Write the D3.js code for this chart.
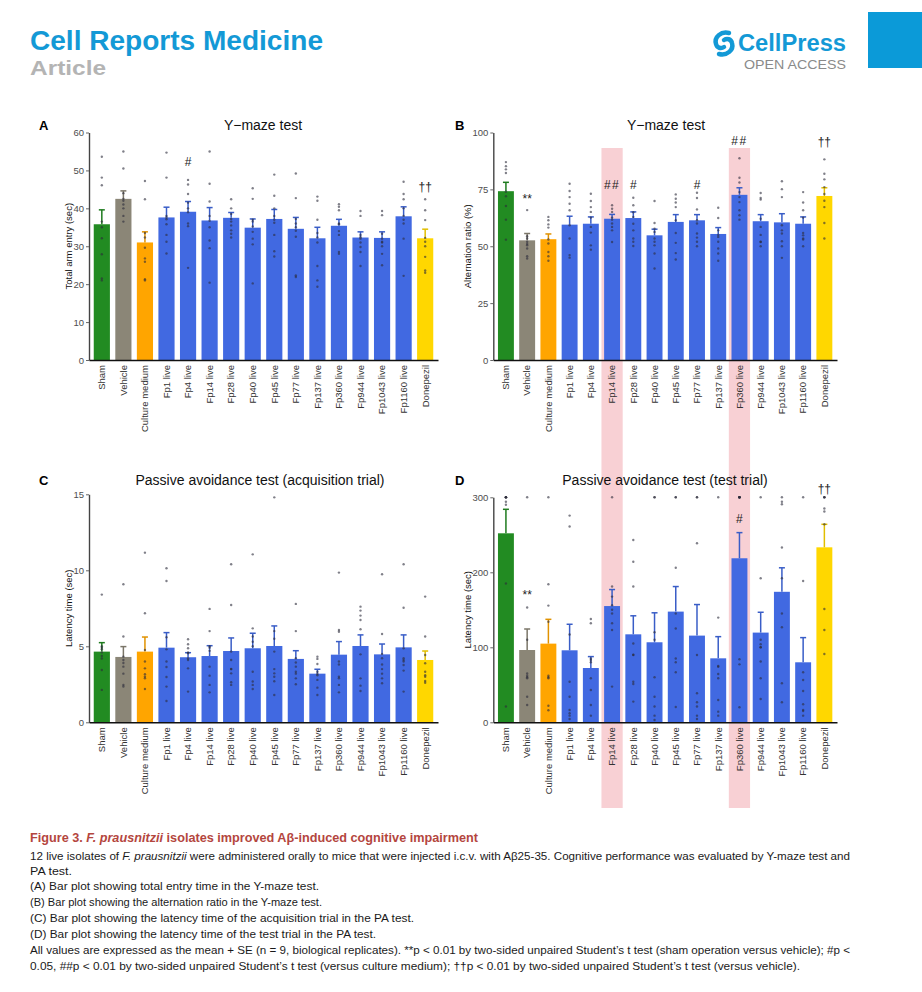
<!DOCTYPE html>
<html>
<head>
<meta charset="utf-8">
<script src="https://cdn.jsdelivr.net/npm/d3@7"></script>
<style>
body { margin: 0; background: #fff; }
svg { display: block; font-family: "Liberation Sans", Arial, sans-serif; }
</style>
</head>
<body>
<svg id="fig" width="922" height="992"></svg>
<script>
var groups = ["Sham", "Vehicle", "Culture medium", "Fp1 live", "Fp4 live", "Fp14 live", "Fp28 live",
    "Fp40 live", "Fp45 live", "Fp77 live", "Fp137 live", "Fp360 live", "Fp944 live", "Fp1043 live",
    "Fp1160 live", "Donepezil"];
var highlighted = ["Fp14 live", "Fp360 live"];

// A: Y-maze, total arm entry
var entryTicks = [0, 10, 20, 30, 40, 50, 60];
var entryMean = [35.8, 42.5, 31.0, 37.6, 39.1, 36.8, 37.5, 34.9, 37.2, 34.6, 32.1, 35.4, 32.3, 32.2, 37.9, 32.1];
var entrySe = [3.8, 2.1, 2.8, 2.7, 2.7, 3.4, 1.4, 2.3, 2.5, 3.0, 2.9, 1.7, 1.5, 1.6, 2.5, 2.4];
var entryPts = [
    [53.6, 48.1, 46.1, 36.5, 35.0, 32.1, 27.9, 21.5, 21.0],
    [55.0, 50.5, 44.0, 42.0, 41.0, 40.0, 38.0, 36.5, 42.5],
    [47.2, 42.4, 33.5, 32.3, 29.6, 26.8, 25.9, 21.3, 21.0],
    [54.7, 48.1, 38.0, 37.1, 35.8, 33.0, 31.2, 28.1, 37.5],
    [47.5, 46.3, 43.8, 41.5, 40.0, 39.0, 36.0, 35.3, 24.3],
    [55.0, 46.5, 41.8, 38.0, 36.7, 35.0, 31.5, 29.5, 20.4],
    [42.4, 40.0, 38.5, 37.2, 36.5, 35.5, 34.2, 33.3, 32.3],
    [45.3, 42.5, 37.0, 36.5, 35.2, 33.8, 32.0, 30.5, 20.2],
    [48.9, 43.3, 40.0, 38.0, 37.0, 36.2, 33.0, 28.7, 27.3],
    [49.2, 42.7, 37.2, 36.0, 35.0, 34.1, 32.5, 22.3, 21.9],
    [43.1, 42.0, 37.0, 33.5, 32.3, 31.0, 24.8, 21.0, 19.3],
    [41.1, 40.4, 39.5, 36.0, 35.8, 34.0, 33.0, 28.5, 28.0],
    [39.3, 38.0, 33.0, 32.4, 32.0, 31.0, 29.8, 28.5, 24.8],
    [39.3, 38.2, 33.3, 32.0, 31.2, 31.0, 30.0, 28.0, 25.0],
    [47.0, 43.8, 42.4, 40.0, 38.0, 37.0, 36.0, 32.0, 22.2],
    [42.4, 39.5, 36.9, 32.2, 31.2, 30.0, 27.2, 23.6, 23.0]
];
var entryMarks = [["Fp4 live", "#", 51.1], ["Donepezil", "\u2020\u2020", 44.5]];

// B: Y-maze, alternation ratio
var altTicks = [0, 25, 50, 75, 100];
var altMean = [74.2, 52.6, 53.1, 59.5, 59.9, 62.1, 62.4, 54.8, 60.7, 61.4, 55.4, 72.6, 61.0, 60.5, 59.9, 72.1];
var altSe = [3.9, 3.0, 2.3, 3.7, 3.0, 1.9, 2.7, 2.7, 3.2, 2.5, 2.8, 3.1, 2.9, 3.8, 3.0, 3.6];
var altPts = [
    [87.0, 85.2, 83.8, 82.2, 74.0, 67.7, 61.7, 52.9, 72.0],
    [65.9, 54.4, 53.4, 52.0, 51.0, 50.4, 49.0, 45.6, 44.6],
    [62.9, 61.4, 59.6, 58.2, 53.0, 51.2, 47.5, 45.6, 43.6],
    [77.5, 74.3, 71.6, 68.7, 65.8, 59.2, 53.4, 46.1, 45.0],
    [73.1, 69.9, 67.2, 65.1, 62.6, 58.5, 56.0, 50.4, 48.5],
    [68.0, 66.5, 65.1, 62.6, 61.7, 60.0, 58.5, 57.0, 51.9],
    [71.3, 68.0, 65.0, 62.9, 59.9, 57.0, 53.4, 52.0, 50.1],
    [69.9, 60.2, 57.7, 56.3, 53.4, 52.0, 50.4, 46.8, 40.2],
    [72.8, 70.9, 69.2, 67.2, 61.4, 55.8, 51.5, 47.0, 44.2],
    [73.5, 71.2, 66.2, 61.4, 60.0, 55.6, 53.8, 52.0, 50.0],
    [66.9, 62.4, 57.0, 55.0, 54.1, 52.0, 49.0, 46.8, 43.6],
    [88.7, 80.1, 73.8, 71.6, 69.4, 65.8, 63.6, 61.7, 78.0],
    [73.4, 71.2, 70.5, 62.1, 58.5, 55.0, 52.0, 51.9, 50.0],
    [78.6, 75.1, 71.6, 59.2, 55.6, 52.2, 50.0, 44.9, 57.0],
    [73.8, 69.2, 65.8, 62.6, 55.8, 54.8, 53.4, 50.0, 53.0],
    [88.2, 81.9, 79.4, 76.0, 67.2, 60.2, 53.4, 73.0, 70.0]
];
var altMarks = [["Vehicle", "**", 68.9], ["Fp14 live", "##", 75.0], ["Fp28 live", "#", 75.0],
    ["Fp77 live", "#", 75.0], ["Fp360 live", "##", 94.5], ["Donepezil", "\u2020\u2020", 93.9]];

// C: passive avoidance, acquisition trial
var acqTicks = [0, 5, 10, 15];
var acqMean = [4.65, 4.30, 4.65, 4.91, 4.28, 4.36, 4.69, 4.87, 5.02, 4.17, 3.20, 4.45, 5.02, 4.47, 4.93, 4.10];
var acqSe = [0.59, 0.68, 0.96, 0.99, 0.30, 0.68, 0.86, 0.99, 1.32, 0.54, 0.29, 0.86, 0.73, 0.68, 0.82, 0.59];
var acqPts = [
    [8.4, 4.8, 4.6, 4.36, 3.44, 2.13, 4.2, 5.0, 4.9],
    [9.08, 5.64, 4.32, 3.66, 2.46, 2.35, 4.1, 3.9, 3.2],
    [11.16, 7.17, 4.76, 3.55, 3.16, 2.89, 2.19, 3.0, 4.0],
    [10.13, 9.3, 4.8, 3.64, 2.98, 2.35, 1.40, 4.0, 5.6],
    [5.46, 5.13, 4.87, 4.54, 4.21, 3.55, 2.02, 4.6, 4.1],
    [7.46, 4.91, 3.66, 3.07, 2.46, 1.97, 5.0, 6.0, 4.7],
    [10.4, 7.72, 4.65, 4.1, 3.51, 3.22, 2.63, 2.46, 3.5],
    [11.05, 6.18, 5.64, 3.33, 2.68, 2.46, 2.19, 5.0, 5.3],
    [14.8, 4.65, 3.22, 3.0, 1.80, 6.0, 5.5, 3.5, 2.7],
    [7.79, 6.0, 4.21, 3.93, 3.66, 3.33, 2.89, 2.5, 3.2],
    [4.32, 4.17, 3.84, 3.33, 3.18, 2.79, 2.28, 1.80, 3.1],
    [9.85, 6.07, 5.96, 3.0, 2.89, 2.46, 1.97, 4.0, 3.8],
    [7.61, 7.35, 7.02, 6.73, 6.12, 4.47, 2.89, 2.41, 2.06],
    [9.74, 5.81, 4.5, 4.21, 2.89, 2.57, 3.8, 3.5, 3.2],
    [10.4, 7.54, 4.87, 4.21, 3.77, 3.4, 2.02, 4.0, 4.1],
    [8.27, 5.64, 4.43, 3.88, 3.33, 3.0, 2.72, 2.6, 3.1]
];
var acqMarks = [];

// D: passive avoidance, test trial
var testTicks = [0, 100, 200, 300];
var testMean = [252, 96.4, 104.9, 96, 72.4, 155, 117.3, 106.7, 147.6, 115.6, 85.3, 218.7, 119.6, 174, 80, 233.3];
var testSe = [32, 28, 32.4, 34.7, 15.2, 22, 24.7, 39.3, 33.4, 41.4, 28.9, 34.2, 27.1, 32, 32.9, 30.7];
var testPts = [
    [300, 300, 300, 300, 294, 300, 185, 290, 21],
    [300, 153, 110, 65, 62, 58.7, 34, 23, 60],
    [300, 184, 155.6, 134, 62, 58.7, 22, 16, 60],
    [275.6, 261, 117, 54, 34, 16.4, 12, 8.9, 4.4],
    [137.8, 132, 58.7, 43, 23, 8.9, 85, 80, 83],
    [300, 181, 167.6, 156, 150, 145, 132, 123, 47.6],
    [243, 214, 181, 105, 89.8, 54, 51, 27.6, 90],
    [300, 300, 120, 110, 60, 34, 21, 8.9, 3.1],
    [300, 300, 206, 145, 125, 85, 80, 66.7, 20.4],
    [300, 300, 238.7, 89.8, 38.7, 26.7, 21, 8.9, 4.4],
    [300, 139.6, 75, 74, 64.4, 58.7, 29.8, 14.2, 8.9],
    [300, 300, 300, 300, 300, 300, 84, 77.3, 20],
    [300, 192, 110, 104, 100, 81, 58.7, 31, 100],
    [300, 294, 290.7, 233, 192, 145, 126.7, 52, 26.7],
    [300, 188.4, 66.7, 56.4, 41.8, 24, 16.4, 15, 8.9],
    [300, 300, 300, 285, 281, 264, 151, 123, 91]
];
var testMarks = [["Vehicle", "**", 165], ["Fp360 live", "#", 265.7], ["Donepezil", "\u2020\u2020", 305.7]];

function bar_color(name)
{
    if (name == "Sham") return "#228B22";
    if (name == "Vehicle") return "#8B8677";
    if (name == "Culture medium") return "#FFA500";
    if (name == "Donepezil") return "#FFD700";
    return "#4169E1";
}

function band_scale(left, right)
{
    return d3.scaleBand().domain(groups).range([left, right]).paddingInner(0.25).paddingOuter(0.22);
}

function build_panel(svg, p)
{
    var x = band_scale(p.left, p.right);
    var y = d3.scaleLinear().domain([0, p.max]).range([p.bottom, p.top]);
    var g = svg.append("g");

    g.append("text").attr("x", p.letterX).attr("y", p.titleY)
        .attr("font-size", 13).attr("font-weight", "bold").text(p.letter);
    g.append("text").attr("x", p.titleX).attr("y", p.titleY)
        .attr("text-anchor", "middle").attr("font-size", 14).attr("fill", "#111").text(p.title);

    // bars
    g.selectAll(".bar").data(groups).enter().append("rect")
        .attr("x", function(d) { return x(d); })
        .attr("width", x.bandwidth())
        .attr("y", function(d, i) { return y(p.mean[i]); })
        .attr("height", function(d, i) { return y(0) - y(p.mean[i]); })
        .attr("fill", function(d) { return bar_color(d); });

    // mean + SE
    var cx = function(d) { return x(d) + x.bandwidth() / 2; };
    var err = g.selectAll(".err").data(groups).enter().append("g")
        .attr("stroke", function(d) { return d3.color(bar_color(d)).darker(0.35); })
        .attr("stroke-width", 1.5);
    err.append("line")
        .attr("x1", cx).attr("x2", cx)
        .attr("y1", function(d, i) { return y(p.mean[i]); })
        .attr("y2", function(d, i) { return y(p.mean[i] + p.se[i]); });
    err.append("line")
        .attr("x1", function(d) { return cx(d) - 3; })
        .attr("x2", function(d) { return cx(d) + 3; })
        .attr("y1", function(d, i) { return y(p.mean[i] + p.se[i]); })
        .attr("y2", function(d, i) { return y(p.mean[i] + p.se[i]); });

    // individual mice
    var pts = [];
    p.pts.forEach(function(arr, i) {
        arr.forEach(function(v) { pts.push({name: groups[i], v: v}); });
    });
    g.selectAll(".pt").data(pts).enter().append("circle")
        .attr("cx", function(d) { return cx(d.name); })
        .attr("cy", function(d) { return y(d.v); })
        .attr("r", 1.2)
        .attr("fill", "#2b2b3a")
        .attr("fill-opacity", 0.6);

    // significance marks
    g.selectAll(".mark").data(p.marks).enter().append("text")
        .attr("x", function(d) { return cx(d[0]); })
        .attr("y", function(d) { return y(d[2]); })
        .attr("text-anchor", "middle")
        .attr("font-size", 12)
        .attr("letter-spacing", function(d) { return d[1] == "##" ? 1.5 : 0; })
        .attr("fill", "#222")
        .text(function(d) { return d[1]; });

    // axes
    var ya = g.append("g").attr("transform", "translate(" + p.left + ",0)")
        .call(d3.axisLeft(y).tickValues(p.ticks).tickSize(3).tickSizeOuter(0).tickPadding(2));
    ya.select(".domain").attr("stroke", "#444").attr("stroke-width", 1.4);
    ya.selectAll(".tick line").attr("stroke", "#666");
    ya.selectAll(".tick text").attr("font-size", 9.5).attr("fill", "#4d4d4d")
        .attr("font-family", "Liberation Sans, Arial, sans-serif");

    var xa = g.append("g").attr("transform", "translate(0," + p.bottom + ")")
        .call(d3.axisBottom(x).tickSize(0).tickSizeOuter(0));
    xa.select(".domain").attr("stroke", "#111").attr("stroke-width", 1.4);
    xa.selectAll(".tick text")
        .attr("transform", "rotate(-90)")
        .attr("x", -5).attr("y", 0).attr("dy", "0.35em")
        .style("text-anchor", "end")
        .attr("font-size", 9.5).attr("fill", "#333")
        .attr("font-family", "Liberation Sans, Arial, sans-serif");

    g.append("text")
        .attr("transform", "translate(" + p.ylabX + "," + ((p.top + p.bottom) / 2) + ") rotate(-90)")
        .attr("text-anchor", "middle").attr("font-size", 9.5).attr("fill", "#111")
        .text(p.ylab);
}

function build_header(svg)
{
    svg.append("text").attr("x", 30).attr("y", 50)
        .attr("font-size", 27).attr("font-weight", "bold").attr("fill", "#1399d6")
        .attr("textLength", 293).attr("lengthAdjust", "spacingAndGlyphs")
        .text("Cell Reports Medicine");
    svg.append("text").attr("x", 30).attr("y", 75)
        .attr("font-size", 21).attr("font-weight", "bold").attr("fill", "#b4b4b4")
        .attr("textLength", 76).attr("lengthAdjust", "spacingAndGlyphs")
        .text("Article");

    svg.append("rect").attr("x", 868).attr("y", 12).attr("width", 54).attr("height", 56).attr("fill", "#0b9ad8");

    // CellPress mark, two hooked strokes
    var logo = svg.append("g").attr("fill", "none").attr("stroke", "#1399d6")
        .attr("stroke-width", 4.5).attr("stroke-linecap", "round");
    logo.append("path").attr("d", "M729,33 C721,31 714,37 716,44 C717,48 721,49 724,47");
    logo.append("path").attr("d", "M719,54 C727,56 734,50 732,43 C731,39 727,38 724,40");

    svg.append("text").attr("x", 738).attr("y", 51)
        .attr("font-size", 23).attr("font-weight", "bold").attr("fill", "#1399d6")
        .attr("textLength", 108).attr("lengthAdjust", "spacingAndGlyphs")
        .text("CellPress");
    svg.append("text").attr("x", 744).attr("y", 69)
        .attr("font-size", 13).attr("fill", "#8a8a8a")
        .attr("textLength", 102).attr("lengthAdjust", "spacingAndGlyphs")
        .text("OPEN ACCESS");
}

function caption_line(svg, y, width, parts, opts)
{
    var t = svg.append("text").attr("x", 30).attr("y", y)
        .attr("font-size", opts.size).attr("fill", opts.fill)
        .attr("font-weight", opts.bold ? "bold" : "normal")
        .attr("textLength", width).attr("lengthAdjust", "spacingAndGlyphs");
    parts.forEach(function(s) {
        var ts = t.append("tspan").text(s.replace(/^_/, ""));
        if (s.charAt(0) == "_") ts.attr("font-style", "italic");
    });
}

function build_caption(svg)
{
    caption_line(svg, 842, 448, ["Figure 3. ", "_F. prausnitzii", " isolates improved A\u03b2-induced cognitive impairment"],
        {size: 12, fill: "#b4463e", bold: true});
    var o = {size: 11, fill: "#1a1a1a"};
    caption_line(svg, 860, 820, ["12 live isolates of ", "_F. prausnitzii",
        " were administered orally to mice that were injected i.c.v. with A\u03b225-35. Cognitive performance was evaluated by Y-maze test and"], o);
    caption_line(svg, 875, 42, ["PA test."], o);
    caption_line(svg, 890, 289, ["(A) Bar plot showing total entry time in the Y-maze test."], o);
    caption_line(svg, 906, 292, ["(B) Bar plot showing the alternation ratio in the Y-maze test."], o);
    caption_line(svg, 922, 384, ["(C) Bar plot showing the latency time of the acquisition trial in the PA test."], o);
    caption_line(svg, 938, 346, ["(D) Bar plot showing the latency time of the test trial in the PA test."], o);
    caption_line(svg, 954, 820, ["All values are expressed as the mean + SE (n = 9, biological replicates). **p < 0.01 by two-sided unpaired Student\u2019s t test (sham operation versus vehicle); #p <"], o);
    caption_line(svg, 970, 770, ["0.05, ##p < 0.01 by two-sided unpaired Student\u2019s t test (versus culture medium); \u2020\u2020p < 0.01 by two-sided unpaired Student\u2019s t test (versus vehicle)."], o);
}

var svg = d3.select("#fig");
svg.append("rect").attr("width", 922).attr("height", 992).attr("fill", "#fff");

build_header(svg);

// pink columns run through panels B and D
var xRight = band_scale(493.3, 837);
svg.selectAll(".hl").data(highlighted).enter().append("rect")
    .attr("x", function(d) { return xRight(d) - (xRight.step() - xRight.bandwidth()) / 2; })
    .attr("width", xRight.step())
    .attr("y", 148).attr("height", 660)
    .attr("fill", "#f8d0d4");

build_panel(svg, {left: 89, right: 438, top: 132.5, bottom: 360, max: 60, ticks: entryTicks,
    mean: entryMean, se: entrySe, pts: entryPts, marks: entryMarks,
    letter: "A", letterX: 39, title: "Y\u2212maze test", titleX: 263, titleY: 130,
    ylab: "Total arm entry (sec)", ylabX: 72});
build_panel(svg, {left: 493.3, right: 837, top: 132.5, bottom: 360, max: 100, ticks: altTicks,
    mean: altMean, se: altSe, pts: altPts, marks: altMarks,
    letter: "B", letterX: 455, title: "Y\u2212maze test", titleX: 666, titleY: 130,
    ylab: "Alternation ratio (%)", ylabX: 471});
build_panel(svg, {left: 89, right: 438, top: 494.3, bottom: 722.3, max: 15, ticks: acqTicks,
    mean: acqMean, se: acqSe, pts: acqPts, marks: acqMarks,
    letter: "C", letterX: 39, title: "Passive avoidance test (acquisition trial)", titleX: 260, titleY: 485,
    ylab: "Latency time (sec)", ylabX: 72});
build_panel(svg, {left: 493.3, right: 837, top: 497.3, bottom: 722.3, max: 300, ticks: testTicks,
    mean: testMean, se: testSe, pts: testPts, marks: testMarks,
    letter: "D", letterX: 455, title: "Passive avoidance test (test trial)", titleX: 665, titleY: 485,
    ylab: "Latency time (sec)", ylabX: 471});

build_caption(svg);
</script>
</body>
</html>
